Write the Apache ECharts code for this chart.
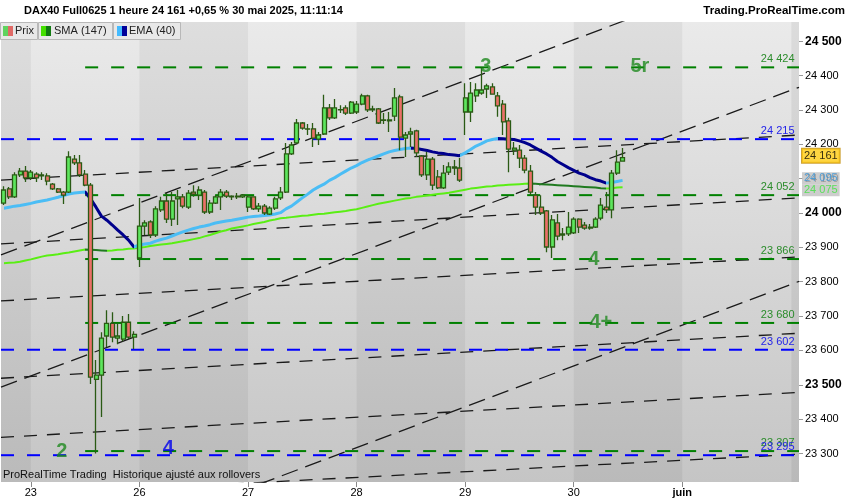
<!DOCTYPE html>
<html><head><meta charset="utf-8">
<script src="https://cdn.jsdelivr.net/npm/echarts@6/dist/echarts.min.js"></script>
<style>html,body{margin:0;padding:0;background:#fff}#c{width:850px;height:500px}</style>
</head><body><div id="c"></div>
<script>
// ---------- data ----------
const dayLabels = ['23','26','27','28','29','30','juin'];
const dayStarts = [5,25,45,65,85,105,125];      // slot of first bar of each day
const slotCount = 147;                          // hourly slots on the axis
const yTicks = [23300,23400,23500,23600,23700,23800,23900,24000,24100,24200,24300,24400,24500];
const yMin = 23217, yMax = 24556;
// [open, close, low, high]
const candles = [
[24029,24067,24023,24078],[24070,24047,24041,24076],[24047,24111,24044,24119],[24111,24122,24105,24131],[24122,24102,24090,24137],
[24102,24119,24096,24125],[24113,24102,24090,24119],[24111,24108,24096,24119],[24108,24093,24081,24116],[24084,24070,24067,24087],
[24070,24061,24058,24073],[24061,24052,24026,24064],[24061,24163,24058,24180],[24157,24146,24140,24169],[24146,24111,24105,24169],
[24113,24081,24078,24125],[24081,23522,23502,24087],[23516,23528,23300,23572],[23528,23636,23406,23653],[23642,23679,23610,23717],
[23679,23639,23624,23711],[23636,23642,23618,23679],[23633,23682,23627,23700],[23682,23639,23633,23706],[23639,23647,23604,23656],
[23869,23962,23843,24044],[23962,23971,23936,23979],[23974,23936,23927,23979],[23936,24012,23930,24020],[24009,24035,24003,24047],
[24035,23982,23971,24058],[23982,24035,23962,24061],[24041,24047,23965,24067],[24047,24020,24014,24055],[24017,24058,24012,24067],
[24061,24055,24047,24081],[24052,24067,24038,24078],[24061,24003,23997,24067],[24003,24029,23997,24038],[24029,24047,24026,24052],
[24047,24061,24009,24070],[24061,24049,24044,24067],[24047,24049,24038,24052],[24049,24047,24041,24058],[24047,24052,24044,24055],
[24017,24047,24003,24052],[24047,24012,24009,24049],[24012,24020,24003,24029],[24020,24000,23994,24026],[23997,24014,23994,24020],
[24014,24041,24009,24047],[24044,24061,24038,24076],[24061,24172,24058,24204],[24172,24198,24169,24207],[24204,24262,24201,24274],
[24262,24247,24242,24265],[24245,24244,24227,24259],[24245,24218,24192,24262],[24215,24227,24198,24236],[24230,24306,24227,24344],
[24306,24277,24271,24317],[24277,24306,24274,24332],[24300,24301,24291,24314],[24306,24291,24285,24314],[24291,24323,24288,24326],
[24294,24317,24288,24326],[24317,24341,24314,24347],[24341,24300,24294,24344],[24300,24303,24294,24312],[24303,24262,24259,24306],
[24271,24270,24259,24291],[24268,24271,24236,24294],[24282,24335,24268,24364],[24338,24221,24183,24344],[24218,24227,24163,24236],
[24230,24236,24192,24248],[24239,24175,24163,24242],[24166,24111,24105,24169],[24111,24157,24096,24178],[24157,24081,24067,24163],
[24105,24073,24070,24125],[24073,24116,24070,24140],[24119,24134,24111,24148],[24131,24134,24111,24154],[24131,24096,24090,24160],
[24294,24335,24227,24378],[24294,24349,24265,24381],[24341,24358,24323,24378],[24349,24358,24344,24425],[24361,24370,24335,24376],
[24367,24346,24344,24378],[24341,24312,24280,24352],[24317,24265,24227,24329],[24268,24186,24119,24277],[24183,24189,24169,24207],
[24183,24160,24131,24198],[24160,24125,24116,24169],[24122,24061,24052,24140],[24052,24017,23994,24061],[24017,24000,23994,24052],
[24006,23901,23886,24009],[23901,23980,23869,23994],[23971,23933,23921,23997],[23936,23939,23921,23956],[23939,23959,23933,24003],
[23942,23982,23939,23988],[23982,23959,23942,23985],[23965,23956,23951,23974],[23956,23959,23951,23968],[23959,23982,23956,23988],
[23985,24023,23979,24044],[24017,24009,24000,24061],[24009,24116,23985,24125],[24116,24148,24111,24183],[24151,24161,24151,24189]
];
const sma147 = [
23854,23855,23856,23858,23862,23865,23869,23873,23876,23878,23880,23883,23885,23888,23891,23894,23893,23892,23891,23890,
23891,23893,23894,23896,23897,23899,23901,23904,23906,23908,23910,23912,23915,23918,23921,23924,23927,23932,23936,23941,
23946,23950,23955,23958,23961,23964,23968,23971,23974,23978,23981,23985,23986,23988,23990,23992,23993,23995,23997,23998,
24000,24002,24004,24006,24009,24011,24015,24019,24023,24027,24030,24033,24036,24039,24042,24044,24047,24049,24051,24053,
24055,24057,24059,24062,24065,24068,24071,24073,24075,24077,24078,24080,24081,24082,24083,24084,24085,24086,24085,24084,
24083,24082,24081,24080,24079,24078,24077,24076,24075,24074,24072,24071,24072,24074,24075
];
const ema40 = [
24014,24017,24020,24022,24025,24028,24032,24035,24038,24042,24046,24051,24055,24058,24060,24061,24041,24017,23991,23979,
23965,23950,23936,23921,23901,23907,23910,23912,23918,23923,23927,23933,23939,23945,23950,23955,23959,23962,23966,23971,
23974,23977,23979,23982,23985,23988,23990,23991,23993,23994,23997,24001,24012,24020,24032,24044,24055,24067,24076,24084,
24095,24103,24113,24122,24131,24138,24147,24154,24160,24166,24172,24178,24182,24185,24188,24189,24188,24185,24182,24178,
24175,24173,24170,24169,24167,24175,24185,24195,24202,24210,24214,24217,24216,24215,24214,24210,24205,24198,24189,24180,
24172,24162,24150,24141,24132,24124,24116,24111,24103,24097,24093,24087,24089,24092,24095
];
const levels     = [24424, 24215, 24052, 23866, 23680, 23602, 23307, 23295];
const levelKinds = ['g','b','g','g','g','b','g','b'];
const levelFrom  = [15, -0.5, 15, 15, 15, -0.5, 15, -0.5];
// trend lines: [slotA, priceA, slotB, priceB]
const trendLines = [
[-0.5,23878,146.5,24751],[-0.5,23493,146.5,24366],[-0.5,22928,146.5,23801],
[-0.5,24096,146.5,24227],[-0.5,23910,146.5,24044],[-0.5,23744,146.5,23872],
[-0.5,23519,146.5,23650],[-0.5,23347,146.5,23478],[-0.5,23176,146.5,23298]
];
const waveLabels = ['5r','3','4','4+','2','4'];
const waveKinds  = ['g','g','g','g','g','b'];
const wavePos    = [[117.2,24427],[88.8,24427],[108.7,23864],[110,23681],[10.7,23307],[30.3,23314]];
const lastTags   = [24161, 24075, 24095];   // last price, SMA(147), EMA(40)

// ---------- chart ----------
const fmt = v => String(Math.round(v)).replace(/\B(?=(\d{3})+(?!\d))/g, ' ');
const GREEN = '#008000', BLUE = '#0000ff';
const txtG = '#2c8c2c', txtB = '#2424e8';
const FONT = 'Liberation Sans, Arial, sans-serif';

const chart = echarts.init(document.getElementById('c'), null, {renderer:'canvas', width:850, height:500});

const bounds = [-0.5, ...dayStarts, slotCount - 0.5];
const bandData = [];
for (let i = 0; i < bounds.length - 1; i++) if (i % 2 === 0) bandData.push([{xAxis: bounds[i]}, {xAxis: bounds[i+1]}]);
bandData.push([{xAxis: 145.1, itemStyle:{color:'rgba(0,0,0,0.06)'}}, {xAxis: slotCount - 0.5}]);

function slopePieces(vals, up, down) {
  const p = [];
  for (let i = 1; i < vals.length; i++) {
    const piece = {lte: i, color: vals[i] >= vals[i-1] ? up : down};
    if (i === 1) piece.gte = 0; else piece.gt = i - 1;
    p.push(piece);
  }
  return p;
}

const series = [];
trendLines.forEach((t, i) => {
  const steep = Math.abs((t[3] - t[1]) / (t[2] - t[0])) > 2;
  const s = {type:'line', xAxisIndex:1, yAxisIndex:0, data:[[t[0],t[1]],[t[2],t[3]]],
    symbol:'none', silent:true, z:2, animation:false,
    lineStyle:{color:'#1a1a1a', width:1.3, type: steep ? [17,8] : [13,10]}};
  if (i === 0) s.markArea = {silent:true, itemStyle:{color:'rgba(0,0,0,0.05)'}, data: bandData};
  series.push(s);
});
levels.forEach((lv, i) => {
  const g = levelKinds[i] === 'g';
  series.push({type:'line', xAxisIndex:1, yAxisIndex:0, data:[[levelFrom[i], lv],[slotCount - 0.5, lv]],
    symbol:'none', silent:true, z:3, animation:false,
    lineStyle:{color: g ? GREEN : BLUE, width:2, type:[13,13]},
    markPoint:{symbol:'circle', symbolSize:1, silent:true, animation:false,
      itemStyle:{color:'rgba(0,0,0,0)'},
      label:{show:true, position:'left', distance:4, offset:[0,-8], fontSize:11, fontFamily:FONT,
        color: g ? txtG : txtB, formatter: p => fmt(p.value)},
      data:[{coord:[slotCount - 0.5, lv], value: lv}]}
  });
});
series.push({name:'SMA (147)', type:'line', xAxisIndex:0, yAxisIndex:0, data: sma147, showSymbol:false,
  symbol:'none', z:4, animation:false, lineStyle:{width:2}});
series.push({name:'EMA (40)', type:'line', xAxisIndex:0, yAxisIndex:0, data: ema40, showSymbol:false,
  symbol:'none', z:4, animation:false, lineStyle:{width:3}});
const smaIdx = series.length - 2, emaIdx = series.length - 1;
series.push({name:'Prix', type:'candlestick', xAxisIndex:0, yAxisIndex:0, data: candles, barWidth:4.5, z:5,
  animation:false,
  itemStyle:{color:'#5de65d', color0:'#ea7068', borderColor:'#2a5a14', borderColor0:'#2a5a14', borderWidth:1.3}});
series.push({type:'scatter', xAxisIndex:1, yAxisIndex:0, symbolSize:1, z:6, silent:true, animation:false,
  itemStyle:{color:'rgba(0,0,0,0)'},
  data: wavePos.map((p, i) => ({value:p, label:{formatter: waveLabels[i], color: waveKinds[i] === 'g' ? '#1f8a1f' : '#0000ee'}})),
  label:{show:true, position:'inside', fontSize:20, fontWeight:'bold', fontFamily:FONT}});
// value tags at the right of the plot (last price, SMA, EMA) - one series each
const tagStyles = [
  {backgroundColor:'#ffcc11', borderColor:'#c08a00', borderWidth:1, color:'#000', padding:[1,2,1,2], lineHeight:12, position:[3.5,-8.5]},
  {backgroundColor:'#c0c0c0', color:'#3ee43e', padding:[0,2,0,2], lineHeight:12, position:[3.5,-2.5]},
  {backgroundColor:'#c0c0c0', color:'#3592d6', padding:[0,2,0,2], lineHeight:12, position:[3.5,-7.5]}
];
lastTags.forEach((v, i) => {
  series.push({type:'scatter', xAxisIndex:1, yAxisIndex:0, symbolSize:1, z:20 + i, silent:true, animation:false,
    itemStyle:{color:'rgba(0,0,0,0)'},
    data:[[slotCount - 0.5, v]],
    label:Object.assign({show:true, fontSize:11, fontFamily:FONT, align:'left', verticalAlign:'top', formatter: fmt(v)}, tagStyles[i])});
});

const option = {
  backgroundColor:'#ffffff',
  animation:false,
  textStyle:{fontFamily: FONT},
  grid:{left:1, right:51, top:22, bottom:18, show:true, borderWidth:0,
    backgroundColor: new echarts.graphic.LinearGradient(0,0,0,1,[{offset:0,color:'#eaeaea'},{offset:1,color:'#c5c5c5'}])},
  visualMap:[
    {show:false, type:'piecewise', seriesIndex: smaIdx, dimension:0, pieces: slopePieces(sma147, '#5aee14', '#207a20')},
    {show:false, type:'piecewise', seriesIndex: emaIdx, dimension:0, pieces: slopePieces(ema40, '#4bbdf5', '#00008c')}
  ],
  xAxis:[
    {type:'category', data: Array.from({length: slotCount}, (_, i) => i), show:false, boundaryGap:true},
    {type:'value', min:-0.5, max: slotCount - 0.5, position:'bottom',
      axisLine:{show:false, onZero:false}, splitLine:{show:false},
      axisTick:{show:true, length:5, customValues: dayStarts, lineStyle:{color:'#8a8a8a'}},
      axisLabel:{customValues: dayStarts, margin:5, fontSize:11, color:'#000',
        formatter: v => { const i = dayStarts.indexOf(v); const s = i >= 0 ? dayLabels[i] : ''; return i === dayLabels.length - 1 ? '{b|' + s + '}' : s; },
        rich:{b:{fontWeight:'bold', fontSize:11, color:'#000'}}}}
  ],
  yAxis:[
    {type:'value', position:'right', min:yMin, max:yMax,
      axisLine:{show:false, onZero:false}, splitLine:{show:false},
      axisTick:{show:true, length:4, customValues: yTicks, lineStyle:{color:'#999'}},
      axisLabel:{customValues: yTicks, margin:6, fontSize:11, color:'#000',
        formatter: v => v % 500 === 0 ? '{b|' + fmt(v) + '}' : fmt(v),
        rich:{b:{fontWeight:'bold', fontSize:12, color:'#000'}}}}
  ],
  graphic:[
    {type:'rect', left:0, top:0, shape:{width:850, height:21}, style:{fill:'#ffffff'}, z:10, silent:true},
    {type:'group', left:4, top:3, z:11, children:[
      {type:'line', shape:{x1:3, y1:3, x2:3, y2:15}, style:{stroke:'#2d5a16', lineWidth:1}},
      {type:'rect', shape:{x:1, y:6, width:4, height:7}, style:{fill:'#5fe05f', stroke:'#2d5a16', lineWidth:1}},
      {type:'line', shape:{x1:10, y1:0, x2:10, y2:12}, style:{stroke:'#2d5a16', lineWidth:1}},
      {type:'rect', shape:{x:8, y:2, width:4, height:7}, style:{fill:'#5fe05f', stroke:'#2d5a16', lineWidth:1}}
    ]},
    {type:'text', left:24, top:5, z:11, style:{text:'DAX40 Full0625 1 heure 24 161 +0,65 % 30 mai 2025, 11:11:14', font:'bold 11px ' + FONT, fill:'#000'}},
    {type:'text', right:5, top:5, z:11, style:{text:'Trading.ProRealTime.com', font:'bold 11.5px ' + FONT, fill:'#000'}},
    // legend boxes
    {type:'rect', left:0, top:22, z:11, shape:{width:37, height:17}, style:{fill:'#e8e8e8', stroke:'#b8b8b8', lineWidth:1}},
    {type:'rect', left:3, top:26, z:12, shape:{width:5, height:10}, style:{fill:'#5fd35f'}},
    {type:'rect', left:8, top:26, z:12, shape:{width:5, height:10}, style:{fill:'#e06a66'}},
    {type:'text', left:15, top:25, z:12, style:{text:'Prix', font:'11px ' + FONT, fill:'#222'}},
    {type:'rect', left:38, top:22, z:11, shape:{width:74, height:17}, style:{fill:'#e8e8e8', stroke:'#b8b8b8', lineWidth:1}},
    {type:'rect', left:41, top:26, z:12, shape:{width:5, height:10}, style:{fill:'#44e000'}},
    {type:'rect', left:46, top:26, z:12, shape:{width:5, height:10}, style:{fill:'#127a12'}},
    {type:'text', left:54, top:25, z:12, style:{text:'SMA (147)', font:'11px ' + FONT, fill:'#222'}},
    {type:'rect', left:113, top:22, z:11, shape:{width:67, height:17}, style:{fill:'#e8e8e8', stroke:'#b8b8b8', lineWidth:1}},
    {type:'rect', left:117, top:26, z:12, shape:{width:5, height:10}, style:{fill:'#44bbff'}},
    {type:'rect', left:122, top:26, z:12, shape:{width:5, height:10}, style:{fill:'#000099'}},
    {type:'text', left:129, top:25, z:12, style:{text:'EMA (40)', font:'11px ' + FONT, fill:'#222'}},
    {type:'text', left:3, top:469, z:11, style:{text:'ProRealTime Trading  Historique ajusté aux rollovers', font:'11px ' + FONT, fill:'#111'}}
  ],
  series: series
};
chart.setOption(option);
</script>
</body></html>
